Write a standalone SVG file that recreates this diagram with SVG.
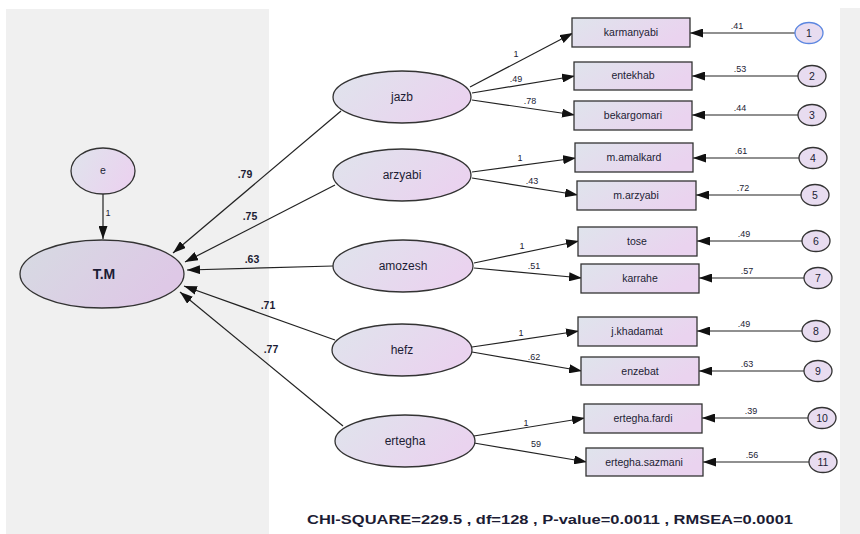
<svg xmlns="http://www.w3.org/2000/svg" width="860" height="534" viewBox="0 0 860 534">
<defs>
<linearGradient id="g" x1="0" y1="0" x2="1" y2="0.4">
<stop offset="0" stop-color="#dfe4ec"/><stop offset="1" stop-color="#ead3ef"/>
</linearGradient>
<linearGradient id="gt" x1="0" y1="0" x2="1" y2="0.4">
<stop offset="0" stop-color="#d6dbe2"/><stop offset="1" stop-color="#dec8e6"/>
</linearGradient>
<marker id="ah" markerUnits="userSpaceOnUse" markerWidth="13" markerHeight="9" refX="13" refY="4.5" orient="auto">
<path d="M0,0 L13,4.5 L0,9 z" fill="#111"/>
</marker>
<style>
.el{fill:url(#g);stroke:#333;stroke-width:1.3}
.bx{fill:url(#g);stroke:#333;stroke-width:1.3}
.er{fill:#e8dcf0;stroke:#333;stroke-width:1.3}
.t{font-family:"Liberation Sans",Arial,sans-serif;fill:#1c1c34;text-anchor:middle}
.lat{font-size:12px}
.obs{font-size:10.5px}
.num{font-size:10.5px}
.sm{font-size:9px}
.bl{font-size:10.5px;font-weight:bold}
.ln{stroke:#222;stroke-width:1.2;fill:none;marker-end:url(#ah)}
</style>
</defs>
<rect x="0" y="0" width="860" height="534" fill="#fff"/>
<rect x="6" y="9" width="263" height="525" fill="#f0f0f0"/>
<rect x="840" y="8" width="20" height="526" fill="#f0f0f0"/>

<g id="connectors">
<line class="ln" x1="103" y1="194" x2="103" y2="239"/>
<line class="ln" x1="341" y1="111" x2="173" y2="253"/>
<line class="ln" x1="335" y1="185" x2="185" y2="262"/>
<line class="ln" x1="333" y1="266" x2="187" y2="270"/>
<line class="ln" x1="335" y1="340" x2="184" y2="286"/>
<line class="ln" x1="343" y1="426" x2="180" y2="292"/>

<line class="ln" x1="470" y1="87" x2="573" y2="33"/>
<line class="ln" x1="472" y1="93" x2="575" y2="76"/>
<line class="ln" x1="472" y1="100" x2="575" y2="115"/>
<line class="ln" x1="472" y1="172" x2="576" y2="158"/>
<line class="ln" x1="472" y1="178" x2="578" y2="195"/>
<line class="ln" x1="474" y1="263" x2="579" y2="241"/>
<line class="ln" x1="474" y1="268" x2="582" y2="278"/>
<line class="ln" x1="472" y1="347" x2="579" y2="331"/>
<line class="ln" x1="472" y1="352" x2="582" y2="371"/>
<line class="ln" x1="474" y1="436" x2="585" y2="418"/>
<line class="ln" x1="474" y1="443" x2="587" y2="462"/>

<line class="ln" x1="795" y1="33" x2="690" y2="33"/>
<line class="ln" x1="798" y1="76" x2="692" y2="76"/>
<line class="ln" x1="798" y1="115" x2="692" y2="115"/>
<line class="ln" x1="799" y1="158" x2="693" y2="158"/>
<line class="ln" x1="801" y1="195" x2="696" y2="195"/>
<line class="ln" x1="802" y1="241" x2="697" y2="241"/>
<line class="ln" x1="804" y1="278" x2="699" y2="278"/>
<line class="ln" x1="802" y1="331" x2="697" y2="331"/>
<line class="ln" x1="804" y1="371" x2="699" y2="371"/>
<line class="ln" x1="808" y1="418" x2="702" y2="418"/>
<line class="ln" x1="809" y1="462" x2="703" y2="462"/>

<text class="t sm" x="108" y="216">1</text>
<text class="t bl" x="245" y="178">.79</text>
<text class="t bl" x="250" y="220">.75</text>
<text class="t bl" x="252" y="263">.63</text>
<text class="t bl" x="268" y="309">.71</text>
<text class="t bl" x="271" y="353">.77</text>

<text class="t sm" x="516" y="57">1</text>
<text class="t sm" x="516" y="82">.49</text>
<text class="t sm" x="530" y="104">.78</text>
<text class="t sm" x="520" y="161">1</text>
<text class="t sm" x="532" y="184">.43</text>
<text class="t sm" x="522" y="249">1</text>
<text class="t sm" x="534" y="269">.51</text>
<text class="t sm" x="521" y="336">1</text>
<text class="t sm" x="534" y="360">.62</text>
<text class="t sm" x="526" y="426">1</text>
<text class="t sm" x="536" y="447">59</text>

<text class="t sm" x="737" y="29">.41</text>
<text class="t sm" x="740" y="72">.53</text>
<text class="t sm" x="740" y="111">.44</text>
<text class="t sm" x="741" y="154">.61</text>
<text class="t sm" x="743" y="191">.72</text>
<text class="t sm" x="744" y="237">.49</text>
<text class="t sm" x="747" y="274">.57</text>
<text class="t sm" x="744" y="327">.49</text>
<text class="t sm" x="747" y="367">.63</text>
<text class="t sm" x="751" y="414">.39</text>
<text class="t sm" x="752" y="458">.56</text>
</g>

<g id="e"><ellipse class="el" cx="103" cy="171" rx="32" ry="23"/><text class="t obs" x="103" y="174">e</text></g>
<g id="TM"><ellipse cx="102" cy="274" rx="82" ry="34" fill="url(#gt)" stroke="#333" stroke-width="1.3"/><text class="t" x="104" y="279" font-size="14" font-weight="bold">T.M</text></g>

<g id="jazb"><ellipse class="el" cx="402" cy="97" rx="69" ry="26"/><text class="t lat" x="402" y="101">jazb</text></g>
<g id="arzyabi"><ellipse class="el" cx="402" cy="175" rx="69" ry="26"/><text class="t lat" x="402" y="179">arzyabi</text></g>
<g id="amozesh"><ellipse class="el" cx="403" cy="266" rx="70" ry="26"/><text class="t lat" x="403" y="270">amozesh</text></g>
<g id="hefz"><ellipse class="el" cx="402" cy="350" rx="70" ry="26"/><text class="t lat" x="402" y="354">hefz</text></g>
<g id="ertegha"><ellipse class="el" cx="405" cy="441" rx="70" ry="26"/><text class="t lat" x="405" y="445">ertegha</text></g>

<g id="karmanyabi"><rect class="bx" x="572" y="18" width="118" height="29"/><text class="t obs" x="631" y="36">karmanyabi</text></g>
<g id="entekhab"><rect class="bx" x="574" y="62" width="118" height="28"/><text class="t obs" x="633" y="79">entekhab</text></g>
<g id="bekargomari"><rect class="bx" x="574" y="101" width="118" height="29"/><text class="t obs" x="633" y="119">bekargomari</text></g>
<g id="m.amalkard"><rect class="bx" x="575" y="143" width="118" height="29"/><text class="t obs" x="634" y="161">m.amalkard</text></g>
<g id="m.arzyabi"><rect class="bx" x="577" y="181" width="119" height="29"/><text class="t obs" x="636" y="199">m.arzyabi</text></g>
<g id="tose"><rect class="bx" x="578" y="227" width="119" height="29"/><text class="t obs" x="637" y="245">tose</text></g>
<g id="karrahe"><rect class="bx" x="581" y="264" width="118" height="29"/><text class="t obs" x="640" y="282">karrahe</text></g>
<g id="j.khadamat"><rect class="bx" x="578" y="317" width="119" height="29"/><text class="t obs" x="637" y="335">j.khadamat</text></g>
<g id="enzebat"><rect class="bx" x="581" y="357" width="118" height="28"/><text class="t obs" x="640" y="375">enzebat</text></g>
<g id="ertegha.fardi"><rect class="bx" x="584" y="404" width="118" height="29"/><text class="t obs" x="643" y="422">ertegha.fardi</text></g>
<g id="ertegha.sazmani"><rect class="bx" x="586" y="448" width="117" height="28"/><text class="t obs" x="644" y="466">ertegha.sazmani</text></g>

<g id="err1"><ellipse cx="809" cy="33" rx="14" ry="10.5" fill="#e8dcf0" stroke="#5b86e0" stroke-width="1.3"/><text class="t num" x="809" y="37">1</text></g>
<g id="err2"><ellipse class="er" cx="812" cy="76" rx="14" ry="10.5"/><text class="t num" x="812" y="80">2</text></g>
<g id="err3"><ellipse class="er" cx="812" cy="115" rx="14" ry="10.5"/><text class="t num" x="812" y="119">3</text></g>
<g id="err4"><ellipse class="er" cx="813" cy="158" rx="14" ry="10.5"/><text class="t num" x="813" y="162">4</text></g>
<g id="err5"><ellipse class="er" cx="815" cy="195" rx="14" ry="10.5"/><text class="t num" x="815" y="199">5</text></g>
<g id="err6"><ellipse class="er" cx="816" cy="241" rx="14" ry="10.5"/><text class="t num" x="816" y="245">6</text></g>
<g id="err7"><ellipse class="er" cx="818" cy="278" rx="14" ry="10.5"/><text class="t num" x="818" y="282">7</text></g>
<g id="err8"><ellipse class="er" cx="816" cy="331" rx="14" ry="10.5"/><text class="t num" x="816" y="335">8</text></g>
<g id="err9"><ellipse class="er" cx="818" cy="371" rx="14" ry="10.5"/><text class="t num" x="818" y="375">9</text></g>
<g id="err10"><ellipse class="er" cx="822" cy="418" rx="14" ry="10.5"/><text class="t num" x="822" y="422">10</text></g>
<g id="err11"><ellipse class="er" cx="823" cy="462" rx="14" ry="10.5"/><text class="t num" x="823" y="466">11</text></g>

<text class="t" x="550" y="524" font-size="13.5" font-weight="bold" fill="#111" textLength="486" lengthAdjust="spacingAndGlyphs">CHI-SQUARE=229.5 , df=128 , P-value=0.0011 , RMSEA=0.0001</text>
</svg>
